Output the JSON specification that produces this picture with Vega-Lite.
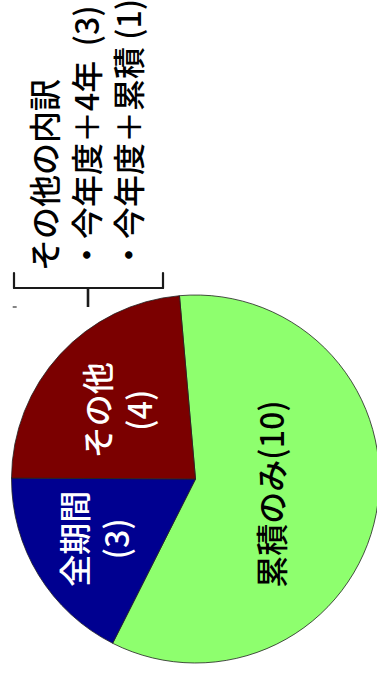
{
  "$schema": "https://vega.github.io/schema/vega-lite/v6.json",
  "width": 377,
  "height": 677,
  "autosize": "none",
  "padding": 0,
  "background": "white",
  "config": {"view": {"stroke": null}},
  "data": {"values": [
    {"category": "累積のみ", "count": 10, "label": "累積のみ(10)", "order": 1},
    {"category": "全期間", "count": 3, "label": "全期間\n(3)", "order": 2},
    {"category": "その他", "count": 4, "label": "その他\n(4)", "order": 3}
  ]},
  "encoding": {
    "x": {"datum": 0, "type": "quantitative", "scale": {"domain": [-1.0625, 0.9864], "nice": false, "zero": false}, "axis": null},
    "y": {"datum": 0, "type": "quantitative", "scale": {"domain": [-1.0761, 2.6033], "nice": false, "zero": false}, "axis": null}
  },
  "layer": [
    {
      "mark": {"type": "arc", "radius": 184, "stroke": "#222222", "strokeWidth": 0.8},
      "encoding": {
        "theta": {"field": "count", "type": "quantitative", "stack": true, "scale": {"range": [-0.0873, 6.1959], "nice": false}},
        "order": {"field": "order", "type": "quantitative", "sort": "ascending"},
        "color": {"field": "category", "type": "nominal", "scale": {"domain": ["累積のみ", "全期間", "その他"], "range": ["#8eff6e", "#000090", "#7b0000"]}, "legend": null}
      }
    },
    {
      "mark": {"type": "text", "radius": 80, "angle": 270, "align": "center", "baseline": "middle", "fontSize": 32, "fontWeight": 500, "lineHeight": 42, "font": "Noto Sans CJK JP", "fill": "#000000", "lineBreak": "\n"},
      "encoding": {
        "theta": {"field": "count", "type": "quantitative", "stack": true},
        "order": {"field": "order", "type": "quantitative", "sort": "ascending"},
        "text": {"condition": {"test": "datum.category === '累積のみ'", "field": "label", "type": "nominal"}, "value": ""}
      }
    },
    {
      "mark": {"type": "text", "radius": 101.5, "angle": 270, "align": "center", "baseline": "middle", "dy": -21, "fontSize": 32, "fontWeight": 500, "lineHeight": 42, "font": "Noto Sans CJK JP", "fill": "#ffffff", "lineBreak": "\n"},
      "encoding": {
        "theta": {"field": "count", "type": "quantitative", "stack": true},
        "order": {"field": "order", "type": "quantitative", "sort": "ascending"},
        "text": {"condition": {"test": "datum.category === 'その他'", "field": "label", "type": "nominal"}, "value": ""}
      }
    },
    {
      "mark": {"type": "text", "radius": 114.6, "angle": 270, "align": "center", "baseline": "middle", "dy": -21, "fontSize": 32, "fontWeight": 500, "lineHeight": 42, "font": "Noto Sans CJK JP", "fill": "#ffffff", "lineBreak": "\n"},
      "encoding": {
        "theta": {"field": "count", "type": "quantitative", "stack": true},
        "order": {"field": "order", "type": "quantitative", "sort": "ascending"},
        "text": {"condition": {"test": "datum.category === '全期間'", "field": "label", "type": "nominal"}, "value": ""}
      }
    },
    {
      "data": {"values": [{"note": "その他の内訳\n・今年度＋4年\u00a0\u00a0(3)\n・今年度＋累積 (1)"}]},
      "mark": {"type": "text", "angle": 270, "align": "left", "baseline": "middle", "dy": -42, "fontSize": 32, "fontWeight": 500, "lineHeight": 42, "font": "Noto Sans CJK JP", "fill": "#000000", "lineBreak": "\n"},
      "encoding": {
        "x": {"datum": -0.5761, "type": "quantitative"},
        "y": {"datum": 1.1304, "type": "quantitative"},
        "text": {"field": "note", "type": "nominal"}
      }
    },
    {
      "data": {"values": [{}]},
      "mark": {"type": "rule", "stroke": "#1a1a1a", "strokeWidth": 2.2, "strokeCap": "round"},
      "encoding": {
        "x": {"datum": -0.9864, "type": "quantitative"},
        "y": {"datum": 1.1196, "type": "quantitative"},
        "y2": {"datum": 1.038}
      }
    },
    {
      "data": {"values": [{}]},
      "mark": {"type": "rule", "stroke": "#1a1a1a", "strokeWidth": 2.2, "strokeCap": "round"},
      "encoding": {
        "x": {"datum": -0.1766, "type": "quantitative"},
        "y": {"datum": 1.1196, "type": "quantitative"},
        "y2": {"datum": 1.038}
      }
    },
    {
      "data": {"values": [{}]},
      "mark": {"type": "rule", "stroke": "#1a1a1a", "strokeWidth": 2.2, "strokeCap": "round"},
      "encoding": {
        "x": {"datum": -0.9864, "type": "quantitative"},
        "x2": {"datum": -0.1766},
        "y": {"datum": 1.038, "type": "quantitative"}
      }
    },
    {
      "data": {"values": [{}]},
      "mark": {"type": "rule", "stroke": "#1a1a1a", "strokeWidth": 2.6, "strokeCap": "butt"},
      "encoding": {
        "x": {"datum": -0.5842, "type": "quantitative"},
        "y": {"datum": 1.038, "type": "quantitative"},
        "y2": {"datum": 0.9348}
      }
    },
    {
      "data": {"values": [{}]},
      "mark": {"type": "rule", "stroke": "#333333", "strokeWidth": 1.2},
      "encoding": {
        "x": {"datum": -0.9935, "type": "quantitative"},
        "x2": {"datum": -0.9719},
        "y": {"datum": 0.9348, "type": "quantitative"}
      }
    }
  ]
}
